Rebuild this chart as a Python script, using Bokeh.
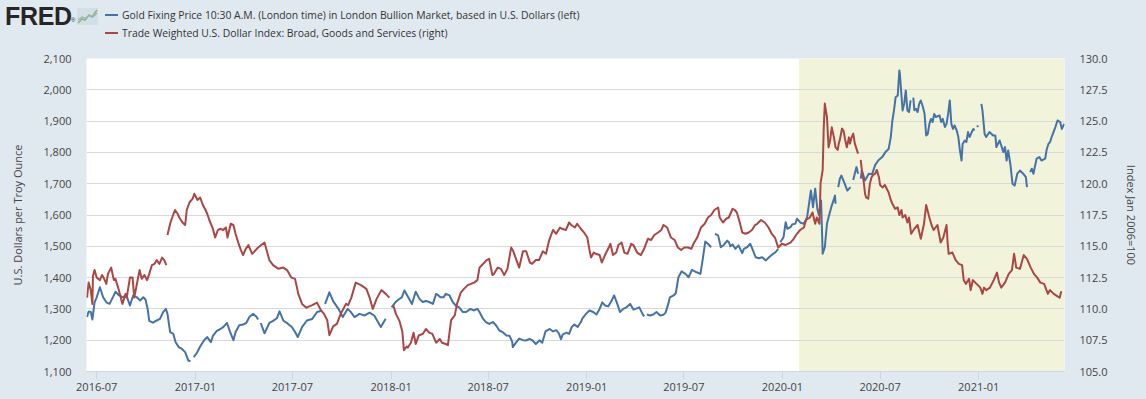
import numpy as np
import pandas as pd
from bokeh.plotting import figure
from bokeh.layouts import column
from bokeh.models import (Range1d, LinearAxis, FixedTicker, NumeralTickFormatter,
                          DatetimeTickFormatter, BoxAnnotation, Div)
from bokeh.embed import file_html
from bokeh.resources import INLINE

# ---------------- data ----------------
gold_label = "Gold Fixing Price 10:30 A.M. (London time) in London Bullion Market, based in U.S. Dollars (left)"
usd_label = "Trade Weighted U.S. Dollar Index: Broad, Goods and Services (right)"

gold_dates = [
    "2016-06-13", "2016-06-16", "2016-06-20", "2016-06-23", "2016-06-27", "2016-07-01", "2016-07-07",
    "2016-07-13", "2016-07-19", "2016-07-25", "2016-08-01", "2016-08-05", "2016-08-12", "2016-08-19",
    "2016-08-25", "2016-09-01", "2016-09-07", "2016-09-14", "2016-09-20", "2016-09-26", "2016-09-30",
    "2016-10-04", "2016-10-07", "2016-10-14", "2016-10-21", "2016-10-27", "2016-11-02", "2016-11-07",
    "2016-11-10", "2016-11-15", "2016-11-21", "2016-11-25", "2016-12-01", "2016-12-07", "2016-12-13",
    "2016-12-19", "2016-12-23", "2016-12-26", "2016-12-29", "2017-01-04", "2017-01-10", "2017-01-17",
    "2017-01-23", "2017-01-30", "2017-02-03", "2017-02-10", "2017-02-16", "2017-02-22", "2017-03-01",
    "2017-03-07", "2017-03-13", "2017-03-17", "2017-03-24", "2017-03-31", "2017-04-06", "2017-04-12",
    "2017-04-19", "2017-04-25", "2017-04-28", "2017-05-01", "2017-05-03", "2017-05-10", "2017-05-19",
    "2017-05-26", "2017-06-02", "2017-06-07", "2017-06-14", "2017-06-23", "2017-06-30", "2017-07-06",
    "2017-07-11", "2017-07-19", "2017-07-28", "2017-08-07", "2017-08-16", "2017-08-23", "2017-08-28",
    "2017-08-31", "2017-09-08", "2017-09-15", "2017-09-25", "2017-10-03", "2017-10-12", "2017-10-18",
    "2017-10-25", "2017-11-03", "2017-11-13", "2017-11-22", "2017-12-01", "2017-12-07", "2017-12-13",
    "2017-12-20", "2017-12-22", "2017-12-26", "2018-01-02", "2018-01-09", "2018-01-15", "2018-01-21",
    "2018-01-26", "2018-02-02", "2018-02-09", "2018-02-16", "2018-02-23", "2018-03-01", "2018-03-07",
    "2018-03-13", "2018-03-20", "2018-03-26", "2018-03-29", "2018-04-03", "2018-04-09", "2018-04-13",
    "2018-04-20", "2018-04-26", "2018-05-02", "2018-05-08", "2018-05-15", "2018-05-21", "2018-05-29",
    "2018-06-04", "2018-06-11", "2018-06-15", "2018-06-21", "2018-06-27", "2018-07-03", "2018-07-10",
    "2018-07-16", "2018-07-22", "2018-07-28", "2018-08-04", "2018-08-10", "2018-08-15", "2018-08-16",
    "2018-08-22", "2018-08-28", "2018-09-04", "2018-09-10", "2018-09-16", "2018-09-22", "2018-09-28",
    "2018-10-05", "2018-10-10", "2018-10-16", "2018-10-24", "2018-10-30", "2018-11-05", "2018-11-10",
    "2018-11-14", "2018-11-17", "2018-11-24", "2018-11-29", "2018-12-04", "2018-12-09", "2018-12-15",
    "2018-12-21", "2018-12-24", "2018-12-31", "2019-01-06", "2019-01-13", "2019-01-19", "2019-01-25",
    "2019-01-30", "2019-02-04", "2019-02-10", "2019-02-16", "2019-02-21", "2019-02-26", "2019-03-04",
    "2019-03-10", "2019-03-16", "2019-03-23", "2019-03-29", "2019-04-02", "2019-04-09", "2019-04-15",
    "2019-04-18", "2019-04-19", "2019-04-23", "2019-04-29", "2019-05-05", "2019-05-11", "2019-05-18",
    "2019-05-24", "2019-05-28", "2019-06-02", "2019-06-05", "2019-06-12", "2019-06-16", "2019-06-21",
    "2019-06-27", "2019-07-04", "2019-07-10", "2019-07-16", "2019-07-25", "2019-08-01", "2019-08-05",
    "2019-08-10", "2019-08-15", "2019-08-21", "2019-08-26", "2019-08-28", "2019-09-03", "2019-09-08",
    "2019-09-14", "2019-09-20", "2019-09-23", "2019-09-26", "2019-09-30", "2019-10-05", "2019-10-11",
    "2019-10-18", "2019-10-21", "2019-10-27", "2019-11-02", "2019-11-07", "2019-11-12", "2019-11-18",
    "2019-11-24", "2019-12-01", "2019-12-07", "2019-12-13", "2019-12-19", "2019-12-24", "2019-12-25",
    "2019-12-28", "2020-01-03", "2020-01-07", "2020-01-10", "2020-01-16", "2020-01-19", "2020-01-25",
    "2020-01-28", "2020-02-04", "2020-02-10", "2020-02-16", "2020-02-23", "2020-02-27", "2020-03-02",
    "2020-03-06", "2020-03-09", "2020-03-13", "2020-03-16", "2020-03-20", "2020-03-24", "2020-03-27",
    "2020-04-01", "2020-04-05", "2020-04-08", "2020-04-09", "2020-04-10", "2020-04-14", "2020-04-17",
    "2020-04-20", "2020-04-26", "2020-05-01", "2020-05-07", "2020-05-08", "2020-05-12", "2020-05-14",
    "2020-05-18", "2020-05-21", "2020-05-25", "2020-05-26", "2020-05-28", "2020-06-03", "2020-06-10",
    "2020-06-16", "2020-06-22", "2020-06-28", "2020-07-05", "2020-07-11", "2020-07-17", "2020-07-21",
    "2020-07-24", "2020-07-27", "2020-07-30", "2020-08-03", "2020-08-06", "2020-08-07", "2020-08-12",
    "2020-08-15", "2020-08-18", "2020-08-21", "2020-08-24", "2020-08-27", "2020-08-31", "2020-09-01",
    "2020-09-03", "2020-09-06", "2020-09-09", "2020-09-12", "2020-09-15", "2020-09-19", "2020-09-22",
    "2020-09-25", "2020-09-28", "2020-10-01", "2020-10-04", "2020-10-07", "2020-10-10", "2020-10-13",
    "2020-10-20", "2020-10-23", "2020-10-26", "2020-10-30", "2020-11-02", "2020-11-05", "2020-11-08",
    "2020-11-11", "2020-11-14", "2020-11-17", "2020-11-21", "2020-11-24", "2020-11-27", "2020-11-30",
    "2020-12-02", "2020-12-06", "2020-12-09", "2020-12-12", "2020-12-15", "2020-12-19", "2020-12-22",
    "2020-12-24", "2020-12-25", "2020-12-29", "2020-12-31", "2021-01-01", "2021-01-06", "2021-01-08",
    "2021-01-12", "2021-01-15", "2021-01-21", "2021-01-28", "2021-02-01", "2021-02-03", "2021-02-09",
    "2021-02-16", "2021-02-19", "2021-02-22", "2021-02-25", "2021-03-01", "2021-03-05", "2021-03-09",
    "2021-03-14", "2021-03-19", "2021-03-25", "2021-03-30", "2021-04-01", "2021-04-02", "2021-04-07",
    "2021-04-10", "2021-04-13", "2021-04-19", "2021-04-24", "2021-04-28", "2021-05-05", "2021-05-08",
    "2021-05-11", "2021-05-14", "2021-05-17", "2021-05-24", "2021-05-28", "2021-06-02", "2021-06-05",
    "2021-06-08", "2021-06-10",
]
gold_values = [
    1274, 1292, 1290, 1266, 1321, 1337, 1369,
    1337, 1321, 1316, 1340, 1355, 1343, 1337,
    1345, 1311, 1343, 1337, 1327, 1337, 1330,
    1300, 1262, 1256, 1263, 1268, 1290, 1300,
    1284, 1226, 1220, 1194, 1178, 1172, 1162,
    1135, 1133, None, 1146, 1160, 1180, 1199,
    1210, 1194, 1215, 1230, 1235, 1242, 1255,
    1226, 1200, 1226, 1248, 1250, 1255, 1275,
    1284, 1275, 1266, None, 1255, 1222, 1255,
    1262, 1270, 1292, 1263, 1252, 1242, 1226,
    1210, 1242, 1263, 1268, 1290, 1293, None,
    1316, 1353, 1325, 1300, 1274, 1300, 1290,
    1274, 1284, 1279, 1288, 1278, 1260, 1242,
    1263, 1268, None, 1305, 1321, 1330, 1337,
    1359, 1337, 1316, 1355, 1332, 1322, 1325,
    1322, 1316, 1348, 1345, 1337, 1337, 1348,
    1343, 1322, 1310, 1305, 1290, 1290, 1300,
    1295, 1300, 1290, 1270, 1258, 1252, 1258,
    1247, 1231, 1226, 1215, 1214, 1195, 1178,
    1192, 1205, 1200, 1199, 1204, 1199, 1188,
    1200, 1192, 1228, 1236, 1228, 1232, 1222,
    1203, 1218, 1224, 1220, 1242, 1250, 1242,
    1258, 1270, 1285, 1295, 1290, 1282, 1300,
    1321, 1311, 1308, 1325, 1343, 1321, 1290,
    1300, 1305, 1316, 1298, 1300, 1305, 1284,
    1276, None, 1282, 1279, 1282, 1290, 1279,
    1281, 1288, 1316, 1337, 1343, 1350, 1401,
    1420, 1412, 1401, 1425, 1417, 1412, 1455,
    1515, 1508, 1497, None, 1540, 1535, 1497,
    1505, 1518, 1513, 1500, 1506, 1492, 1503,
    1478, 1492, 1497, 1508, 1487, 1465, 1462,
    1465, 1455, 1465, 1474, 1481, 1492, None,
    1513, 1529, 1577, 1556, 1561, 1570, 1572,
    1588, 1575, 1572, 1593, 1678, 1625, 1684,
    1620, 1600, 1646, 1476, 1497, 1572, 1593,
    1625, 1646, 1662, 1636, None, 1689, 1716,
    1726, 1700, 1678, 1689, None, 1712, 1726,
    1753, 1732, None, 1716, 1742, 1710, 1732,
    1730, 1760, 1775, 1785, 1801, 1811, 1849,
    1902, 1934, 1976, 1982, 2062, 2051, 1934,
    1955, 1998, 1934, 1929, 1966, None, 1975,
    1935, 1939, 1929, 1955, 1966, 1945, 1923,
    1854, 1859, 1891, 1907, 1897, 1923, 1913,
    1918, 1897, 1907, 1881, 1891, 1923, 1966,
    1891, 1875, 1886, 1870, 1849, 1806, 1774,
    1827, 1838, 1833, 1865, 1849, 1865, 1875,
    1870, None, 1881, 1886, None, 1955, 1934,
    1859, 1849, 1865, 1854, 1854, 1817, 1838,
    1801, 1817, 1774, 1806, 1763, 1700, 1694,
    1732, 1742, 1732, 1721, 1689, None, 1737,
    1748, 1732, 1780, 1785, 1774, 1780, 1811,
    1827, 1833, 1849, 1881, 1902, 1897, 1875,
    1886, 1891,
]

usd_dates = [
    "2016-06-13", "2016-06-16", "2016-06-20", "2016-06-23", "2016-06-24", "2016-06-27", "2016-07-01",
    "2016-07-07", "2016-07-11", "2016-07-15", "2016-07-19", "2016-07-22", "2016-07-28", "2016-08-02",
    "2016-08-05", "2016-08-10", "2016-08-15", "2016-08-18", "2016-08-24", "2016-08-26", "2016-09-01",
    "2016-09-06", "2016-09-09", "2016-09-14", "2016-09-19", "2016-09-23", "2016-09-28", "2016-10-03",
    "2016-10-07", "2016-10-12", "2016-10-17", "2016-10-21", "2016-10-26", "2016-10-31", "2016-11-04",
    "2016-11-08", "2016-11-09", "2016-11-10", "2016-11-15", "2016-11-18", "2016-11-24", "2016-11-29",
    "2016-12-02", "2016-12-08", "2016-12-13", "2016-12-16", "2016-12-21", "2016-12-27", "2016-12-30",
    "2017-01-05", "2017-01-10", "2017-01-15", "2017-01-20", "2017-01-24", "2017-01-27", "2017-02-02",
    "2017-02-07", "2017-02-12", "2017-02-16", "2017-02-22", "2017-02-27", "2017-03-02", "2017-03-08",
    "2017-03-13", "2017-03-17", "2017-03-22", "2017-03-27", "2017-03-31", "2017-04-05", "2017-04-10",
    "2017-04-17", "2017-04-28", "2017-05-10", "2017-05-19", "2017-05-26", "2017-06-05", "2017-06-14",
    "2017-06-21", "2017-06-29", "2017-07-06", "2017-07-12", "2017-07-19", "2017-07-27", "2017-08-07",
    "2017-08-16", "2017-08-23", "2017-08-29", "2017-09-04", "2017-09-08", "2017-09-15", "2017-09-22",
    "2017-09-29", "2017-10-09", "2017-10-13", "2017-10-19", "2017-10-27", "2017-11-06", "2017-11-16",
    "2017-11-22", "2017-11-28", "2017-12-05", "2017-12-14", "2017-12-22", "2017-12-29", "2018-01-01",
    "2018-01-05", "2018-01-10", "2018-01-17", "2018-01-22", "2018-01-25", "2018-01-30", "2018-02-01",
    "2018-02-07", "2018-02-12", "2018-02-16", "2018-02-22", "2018-03-01", "2018-03-07", "2018-03-13",
    "2018-03-19", "2018-03-26", "2018-04-02", "2018-04-06", "2018-04-13", "2018-04-17", "2018-04-23",
    "2018-04-30", "2018-05-04", "2018-05-11", "2018-05-17", "2018-05-24", "2018-05-30", "2018-06-05",
    "2018-06-11", "2018-06-15", "2018-06-22", "2018-06-28", "2018-07-03", "2018-07-09", "2018-07-12",
    "2018-07-19", "2018-07-25", "2018-07-31", "2018-08-06", "2018-08-13", "2018-08-17", "2018-08-22",
    "2018-08-28", "2018-09-04", "2018-09-10", "2018-09-17", "2018-09-21", "2018-09-28", "2018-10-04",
    "2018-10-11", "2018-10-17", "2018-10-23", "2018-10-30", "2018-11-05", "2018-11-12", "2018-11-16",
    "2018-11-23", "2018-11-29", "2018-12-03", "2018-12-10", "2018-12-14", "2018-12-21", "2018-12-27",
    "2019-01-02", "2019-01-07", "2019-01-09", "2019-01-14", "2019-01-18", "2019-01-25", "2019-01-29",
    "2019-02-04", "2019-02-11", "2019-02-14", "2019-02-19", "2019-02-25", "2019-03-01", "2019-03-07",
    "2019-03-12", "2019-03-18", "2019-03-25", "2019-03-29", "2019-04-05", "2019-04-12", "2019-04-18",
    "2019-04-25", "2019-05-01", "2019-05-07", "2019-05-14", "2019-05-20", "2019-05-24", "2019-05-31",
    "2019-06-07", "2019-06-14", "2019-06-20", "2019-06-26", "2019-07-02", "2019-07-09", "2019-07-15",
    "2019-07-19", "2019-07-26", "2019-08-02", "2019-08-09", "2019-08-15", "2019-08-21", "2019-08-27",
    "2019-09-03", "2019-09-06", "2019-09-12", "2019-09-18", "2019-09-23", "2019-09-30", "2019-10-04",
    "2019-10-08", "2019-10-14", "2019-10-18", "2019-10-24", "2019-10-30", "2019-11-05", "2019-11-11",
    "2019-11-15", "2019-11-22", "2019-11-29", "2019-12-06", "2019-12-12", "2019-12-18", "2019-12-24",
    "2019-12-31", "2020-01-06", "2020-01-16", "2020-01-22", "2020-01-28", "2020-02-03", "2020-02-10",
    "2020-02-14", "2020-02-21", "2020-02-26", "2020-03-02", "2020-03-05", "2020-03-10", "2020-03-12",
    "2020-03-16", "2020-03-18", "2020-03-20", "2020-03-24", "2020-03-27", "2020-03-30", "2020-04-02",
    "2020-04-06", "2020-04-09", "2020-04-13", "2020-04-15", "2020-04-17", "2020-04-21", "2020-04-24",
    "2020-04-27", "2020-04-30", "2020-05-04", "2020-05-06", "2020-05-08", "2020-05-12", "2020-05-15",
    "2020-05-18", "2020-05-21", "2020-05-25", "2020-05-26", "2020-05-28", "2020-06-01", "2020-06-03",
    "2020-06-05", "2020-06-09", "2020-06-12", "2020-06-15", "2020-06-18", "2020-06-22", "2020-06-25",
    "2020-06-29", "2020-07-01", "2020-07-06", "2020-07-10", "2020-07-17", "2020-07-21", "2020-07-24",
    "2020-07-29", "2020-08-03", "2020-08-06", "2020-08-10", "2020-08-12", "2020-08-17", "2020-08-21",
    "2020-08-24", "2020-08-28", "2020-09-03", "2020-09-09", "2020-09-15", "2020-09-21", "2020-09-25",
    "2020-10-01", "2020-10-05", "2020-10-09", "2020-10-16", "2020-10-22", "2020-10-27", "2020-11-02",
    "2020-11-04", "2020-11-06", "2020-11-13", "2020-11-19", "2020-11-25", "2020-12-01", "2020-12-04",
    "2020-12-08", "2020-12-14", "2020-12-17", "2020-12-21", "2020-12-28", "2021-01-04", "2021-01-08",
    "2021-01-11", "2021-01-15", "2021-01-22", "2021-01-29", "2021-02-04", "2021-02-08", "2021-02-12",
    "2021-02-19", "2021-02-26", "2021-03-04", "2021-03-08", "2021-03-12", "2021-03-19", "2021-03-26",
    "2021-04-01", "2021-04-08", "2021-04-14", "2021-04-20", "2021-04-26", "2021-05-03", "2021-05-10",
    "2021-05-14", "2021-05-21", "2021-05-28", "2021-06-01", "2021-06-04",
]
usd_values = [
    110.9, 112.1, 111.5, 110.4, 112.6, 113.1, 112.5,
    112.3, 112.7, 112.4, 112.0, 112.8, 113.3, 112.3,
    112.4, 111.7, 110.9, 110.4, 111.2, 110.9, 112.5,
    112.5, 110.9, 112.0, 113.1, 112.4, 112.7, 112.3,
    112.8, 113.5, 113.6, 113.9, 113.6, 114.1, 113.9,
    113.5, None, 115.9, 116.8, 117.2, 117.9, 117.6,
    117.3, 116.9, 116.7, 117.9, 118.5, 118.8, 119.2,
    118.7, 118.9, 118.3, 117.9, 117.5, 117.1, 116.5,
    115.7, 116.3, 116.4, 116.3, 116.5, 115.7, 116.8,
    116.7, 116.0, 115.3, 114.7, 114.3, 114.8, 115.1,
    114.4, 114.9, 115.3, 113.9, 113.5, 113.2, 113.3,
    113.1, 112.5, 112.4, 111.2, 110.4, 110.1, 110.3,
    110.5, 109.9, 109.6, 109.1, 107.9, 108.6, 108.8,
    109.6, 110.4, 110.3, 110.9, 112.1, 111.9, 111.6,
    110.9, 110.0, 110.8, 111.5, 111.2, 110.9, None,
    110.3, 109.6, 109.0, 108.2, 106.7, 107.0, 106.9,
    107.3, 108.1, 107.2, 107.9, 108.0, 108.4, 108.1,
    108.0, 107.3, 107.6, 107.3, 107.2, 107.1, 109.1,
    109.5, 110.4, 111.3, 111.6, 111.9, 112.0, 112.1,
    112.3, 113.3, 113.6, 113.9, 114.0, 112.7, 112.8,
    113.3, 113.2, 112.7, 113.2, 114.9, 114.6, 114.0,
    113.3, 114.6, 114.6, 113.7, 113.6, 113.9, 113.9,
    114.6, 114.4, 115.5, 116.3, 116.0, 116.5, 116.4,
    116.3, 116.9, 116.7, 116.5, 116.8, 116.4, 116.1,
    115.7, 114.5, 114.1, 114.5, 114.4, 114.3, 113.7,
    114.3, 114.9, 115.2, 114.3, 114.5, 115.1, 115.3,
    114.5, 114.4, 115.2, 115.1, 114.5, 114.3, 114.8,
    115.6, 115.5, 115.9, 116.1, 116.3, 116.7, 116.5,
    115.7, 115.5, 114.9, 114.7, 114.9, 114.9, 114.8,
    115.2, 115.7, 116.5, 116.8, 117.3, 117.5, 117.9,
    118.1, 117.3, 116.9, 117.2, 117.3, 118.0, 117.9,
    117.7, 116.8, 116.1, 116.0, 116.1, 116.3, 116.7,
    116.8, 117.1, 116.9, 116.5, 116.0, 115.7, 114.9,
    115.2, 115.1, 115.3, 115.6, 116.0, 116.3, 116.5,
    117.1, 117.3, 117.7, 116.8, 117.3, 116.8, 120.0,
    121.1, 124.5, 126.4, 125.3, 122.9, 123.5, 124.5,
    123.7, 122.9, 122.7, 123.2, 123.5, 124.4, 124.2,
    123.5, 122.9, 123.7, 123.2, 123.6, 124.0, 123.2,
    122.8, 122.4, None, 121.9, 121.1, 120.0, 119.2,
    118.9, 118.8, 120.0, 120.5, 120.7, 120.8, 121.1,
    120.5, 119.9, 119.7, 119.9, 119.3, 118.7, 118.4,
    118.0, 118.1, 117.5, 117.9, 117.3, 117.5, 116.9,
    117.3, 116.0, 116.4, 116.7, 115.6, 116.8, 118.3,
    117.3, 116.7, 116.3, 116.7, 115.3, 115.7, 116.7,
    115.3, 114.4, 114.5, 113.9, 113.6, 113.5, 112.3,
    112.0, 112.4, 111.5, 112.3, 112.0, 111.7, 111.2,
    111.7, 111.5, 111.7, 112.3, 112.9, 112.1, 111.7,
    112.1, 112.8, 113.1, 114.4, 113.3, 113.2, 114.3,
    114.0, 113.3, 112.8, 112.5, 112.1, 112.0, 111.2,
    111.5, 111.2, 111.0, 110.9, 111.4,
]

x_tick_dates = ["2016-07-01", "2017-01-01", "2017-07-01", "2018-01-01", "2018-07-01",
                "2019-01-01", "2019-07-01", "2020-01-01", "2020-07-01", "2021-01-01"]
gold_ticks = [1100, 1200, 1300, 1400, 1500, 1600, 1700, 1800, 1900, 2000, 2100]
usd_ticks = [105.0, 107.5, 110.0, 112.5, 115.0, 117.5, 120.0, 122.5, 125.0, 127.5, 130.0]
x_start, x_end = "2016-06-12", "2021-06-10"
shade_start = "2020-02-01"
left_title = "U.S. Dollars per Troy Ounce"
right_title = "Index Jan 2006=100"

# ---------------- styling ----------------
BG = "#e1e9f0"
YEL = "#f1f3da"
BLUE = "#4572a7"
RED = "#aa4643"
GRID = "#d9d9d9"
TXT = "#444444"
FONT = "Open Sans"


def ms(d):
    return pd.Timestamp(d).value / 1e6


gd = pd.to_datetime(gold_dates)
gv = np.array([np.nan if v is None else v for v in gold_values], dtype=float)
ud = pd.to_datetime(usd_dates)
uv = np.array([np.nan if v is None else v for v in usd_values], dtype=float)

# page geometry (page margin is 0): header strip + plot
W, H = 1146, 399
HEAD_H = 46
F_LEFT, F_RIGHT, F_TOP, F_BOTTOM = 86, 1064, 58, 371
PH = H - HEAD_H

p = figure(width=W, height=PH, x_axis_type="datetime", output_backend="svg", toolbar_location=None,
           x_range=Range1d(ms(x_start), ms(x_end)), y_range=Range1d(1100, 2100),
           min_border_left=F_LEFT, min_border_right=W - F_RIGHT,
           min_border_top=F_TOP - HEAD_H, min_border_bottom=H - F_BOTTOM,
           background_fill_color="white", border_fill_color=BG, outline_line_color=None,
           margin=0)

p.extra_y_ranges = {"usd": Range1d(105, 130)}

# shading (below grid)
p.add_layout(BoxAnnotation(left=ms(shade_start), fill_color=YEL, fill_alpha=1.0,
                           line_alpha=0, level="image"))

# grids
p.xgrid.grid_line_color = None
p.ygrid.grid_line_color = GRID
p.ygrid.grid_line_width = 1
p.ygrid.ticker = FixedTicker(ticks=gold_ticks)

# x axis
xa = p.xaxis[0]
xa.ticker = FixedTicker(ticks=[ms(d) for d in x_tick_dates])
xa.formatter = DatetimeTickFormatter(days="%Y-%m", months="%Y-%m", years="%Y-%m")
xa.axis_line_color = "#ccd6eb"
xa.major_tick_line_color = "#ccd6eb"
xa.major_tick_out = 8
xa.major_tick_in = 0
xa.minor_tick_line_color = None
xa.major_label_standoff = 3
xa.major_label_text_font = FONT
xa.major_label_text_font_size = "11px"
xa.major_label_text_color = TXT

# left y axis
ya = p.yaxis[0]
ya.ticker = FixedTicker(ticks=gold_ticks)
ya.formatter = NumeralTickFormatter(format="0,0")
ya.axis_label = left_title

right = LinearAxis(y_range_name="usd", ticker=FixedTicker(ticks=usd_ticks),
                   formatter=NumeralTickFormatter(format="0.0"), axis_label=right_title)
p.add_layout(right, "right")

for ax, st in [(ya, 15), (right, 13)]:
    ax.axis_line_color = None
    ax.major_tick_line_color = None
    ax.minor_tick_line_color = None
    ax.major_tick_out = 0
    ax.major_tick_in = 0
    ax.major_label_standoff = 15
    ax.major_label_text_font = FONT
    ax.major_label_text_font_size = "11px"
    ax.major_label_text_color = TXT
    ax.axis_label_text_font = FONT
    ax.axis_label_text_font_size = "11px"
    ax.axis_label_text_font_style = "normal"
    ax.axis_label_text_color = TXT
    ax.axis_label_standoff = st

# lines
p.line(gd, gv, line_color=BLUE, line_width=2, line_join="round")
p.line(ud, uv, line_color=RED, line_width=2, line_join="round", y_range_name="usd")

# header strip: FRED wordmark + legend (real text)
legend_text_style = ("position:absolute;left:122px;font-family:'Open Sans';font-size:10.4px;"
                     "line-height:18px;color:#333333;white-space:nowrap;")
swatch_style = "position:absolute;left:105px;width:13px;height:2px;"
header_html = f"""
<div style="position:relative;width:{W}px;height:{HEAD_H}px;overflow:hidden;">
  <div style="position:absolute;left:5px;top:4px;font-family:'Liberation Sans';font-weight:bold;
              font-size:25px;line-height:25px;color:#262626;letter-spacing:-0.3px;">FRED</div>
  <div style="position:absolute;left:71px;top:17px;font-family:'Liberation Sans';font-size:6px;
              line-height:6px;color:#262626;">&reg;</div>
  <svg style="position:absolute;left:77px;top:8px;" width="21" height="17" viewBox="0 0 21 17">
    <rect x="0" y="0" width="21" height="17" fill="#d3dfe8"/>
    <polyline points="1,15 5,11 8,12 12,7 15,9 20,2" fill="none" stroke="#8fb573" stroke-width="1.6"/>
    <polyline points="1,12 5,9 8,10 12,8 16,9 20,5" fill="none" stroke="#9bb3c9" stroke-width="1.2"/>
  </svg>
  <div style="{swatch_style}top:14px;background:{BLUE};"></div>
  <div style="{legend_text_style}top:6px;">{gold_label}</div>
  <div style="{swatch_style}top:32px;background:{RED};"></div>
  <div style="{legend_text_style}top:24px;">{usd_label}</div>
</div>
"""
header = Div(text=header_html, width=W, height=HEAD_H, margin=0)

layout = column(header, p, spacing=0, margin=0)

tpl = """{% block postamble %}<style>html, body { margin: 0; padding: 0; background-color: #e1e9f0; }</style>{% endblock %}"""
open("out.html", "w").write(file_html(layout, INLINE, title="FRED chart", template=tpl))
